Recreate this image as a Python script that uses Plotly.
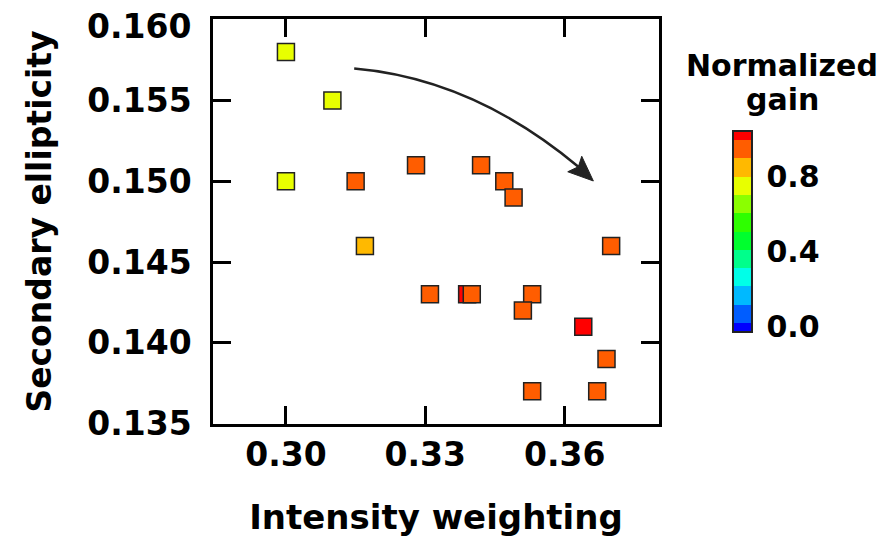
import colorsys
import plotly.graph_objects as go

# ---- data ----
intensity = [0.300, 0.310, 0.300, 0.315, 0.328, 0.342, 0.347, 0.349, 0.317, 0.370,
             0.331, 0.339, 0.340, 0.353, 0.351, 0.364, 0.369, 0.353, 0.367]
ellipticity = [0.158, 0.155, 0.150, 0.150, 0.151, 0.151, 0.150, 0.149, 0.146, 0.146,
               0.143, 0.143, 0.143, 0.143, 0.142, 0.141, 0.139, 0.137, 0.137]
gain = [0.75, 0.75, 0.75, 0.95, 0.95, 0.95, 0.95, 0.95, 0.85, 0.95,
        0.95, 1.00, 0.95, 0.95, 0.95, 1.00, 0.95, 0.95, 0.95]

x_ticks = [0.30, 0.33, 0.36]
x_tick_text = ["0.30", "0.33", "0.36"]
y_ticks = [0.135, 0.140, 0.145, 0.150, 0.155, 0.160]
y_tick_text = ["0.135", "0.140", "0.145", "0.150", "0.155", "0.160"]
cbar_ticks = [0.0, 0.4, 0.8]
cbar_tick_text = ["0.0", "0.4", "0.8"]

# ---- discrete rainbow colour scale (12 levels, half bins at the ends) ----
n = 12
cols = []
for k in range(n):
    h = (240.0 * (1 - k / (n - 1))) / 360.0
    r, g, b = colorsys.hsv_to_rgb(h, 1, 1)
    cols.append(f"rgb({round(r*255)},{round(g*255)},{round(b*255)})")
cscale = []
for k in range(n):
    lo = 0.0 if k == 0 else (k - 0.5) / (n - 1)
    hi = 1.0 if k == n - 1 else (k + 0.5) / (n - 1)
    cscale.append([lo, cols[k]])
    cscale.append([hi, cols[k]])

FONT = "DejaVu Sans"
TICKFONT = dict(family=FONT, size=33, color="black", weight="bold")

fig = go.Figure()
fig.add_trace(go.Scatter(
    x=intensity, y=ellipticity, mode="markers",
    marker=dict(
        symbol="square", size=17, color=gain, cmin=-0.03, cmax=1.045,
        colorscale=cscale, line=dict(color="#222222", width=1.5),
        colorbar=dict(
            thicknessmode="pixels", thickness=19, lenmode="pixels", len=201,
            x=(733 - 213) / 446, xanchor="left", y=(424 - 231.5) / 405, yanchor="middle",
            xpad=0, ypad=0,
            outlinewidth=2, outlinecolor="#222222",
            tickvals=cbar_ticks, ticktext=cbar_tick_text,
            ticks="outside", ticklen=8, tickcolor="rgba(0,0,0,0)",
            tickfont=dict(family=FONT, size=30, color="black", weight="bold"),
        ),
    ),
    showlegend=False,
))

# curved arrow
p0 = (0.31469, 0.15698)
c = (0.34035, 0.15634)
p2 = (0.36294, 0.15090)
fig.add_shape(type="path", xref="x", yref="y",
              path=f"M {p0[0]},{p0[1]} Q {c[0]},{c[1]} {p2[0]},{p2[1]}",
              line=dict(color="#222222", width=2.5))
tip = (0.36617, 0.15002)
b1 = (0.36066, 0.15059)
b2 = (0.36367, 0.15155)
notch = (0.36294, 0.15090)
fig.add_shape(type="path", xref="x", yref="y",
              path=f"M {tip[0]},{tip[1]} L {b1[0]},{b1[1]} L {notch[0]},{notch[1]} L {b2[0]},{b2[1]} Z",
              fillcolor="#222222", line=dict(color="#222222", width=1))

fig.add_annotation(text="Normalized", xref="paper", yref="paper",
                   x=(782 - 213) / 446, y=(424 - 66) / 405, xanchor="center", yanchor="middle",
                   showarrow=False,
                   font=dict(family=FONT, size=30, color="black", weight="bold"))
fig.add_annotation(text="gain", xref="paper", yref="paper",
                   x=(782 - 213) / 446, y=(424 - 100) / 405, xanchor="center", yanchor="middle",
                   showarrow=False,
                   font=dict(family=FONT, size=30, color="black", weight="bold"))

# top y tick label sits slightly below its tick (as in the reference)
fig.add_annotation(text=y_tick_text[-1], xref="paper", yref="y",
                   x=0, y=y_ticks[-1], xanchor="right", yanchor="middle",
                   height=30, valign="middle", borderpad=0,
                   xshift=-21, yshift=-6, showarrow=False, font=TICKFONT)
axis_tick_text = y_tick_text[:-1] + [""]

axis_common = dict(showline=True, linewidth=2.5, linecolor="black", mirror="ticks",
                   ticks="inside", ticklen=18, tickwidth=2.5, tickcolor="black",
                   showgrid=False, zeroline=False, automargin=False,
                   ticklabeloverflow="allow", tickfont=TICKFONT)

fig.update_xaxes(range=[0.2843, 0.3803], tickvals=x_ticks, ticktext=x_tick_text,
                 title=dict(text="Intensity weighting", standoff=33,
                            font=dict(family=FONT, size=34, color="black", weight="bold")),
                 **axis_common)
fig.update_yaxes(range=[0.13497, 0.16005], tickvals=y_ticks, ticktext=axis_tick_text,
                 ticklabelstandoff=12,
                 title=dict(text="Secondary ellipticity", standoff=26,
                            font=dict(family=FONT, size=33, color="black", weight="bold")),
                 **axis_common)

# the page body adds an 8 px offset, so the figure is 8 px smaller on each axis
fig.update_layout(width=882, height=529, margin=dict(l=205, r=231, t=11, b=113),
                  plot_bgcolor="white", paper_bgcolor="white")

fig.write_html("out.html")
